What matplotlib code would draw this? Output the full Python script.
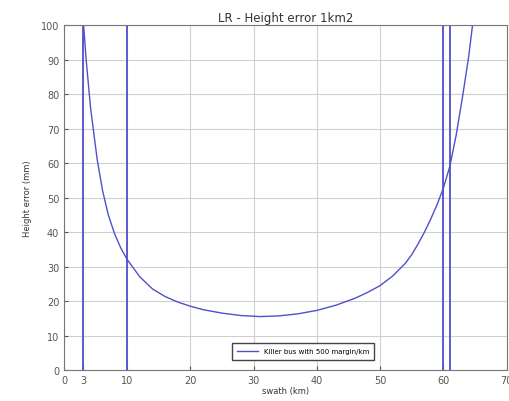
import matplotlib
matplotlib.use("Agg")
import matplotlib.pyplot as plt

# height error curve
swath = [3.1, 3.5, 4.2, 5.25, 6.1, 7, 8, 9, 10, 12, 14, 16, 18, 20, 22, 25, 28, 31,
         34, 37, 40, 43, 46, 48, 50, 52, 54, 55, 56, 57, 58, 59, 60, 61, 62, 63, 64, 64.6]
height_err = [100, 90, 76, 61, 52, 45, 39.5, 35.3, 32, 27, 23.5, 21.3, 19.7, 18.5, 17.5,
              16.5, 15.8, 15.5, 15.7, 16.3, 17.3, 18.8, 20.8, 22.5, 24.5, 27.3, 31,
              33.5, 36.6, 40, 43.8, 48, 52.8, 59, 68, 79, 91, 100]
vlines = [3, 10, 60, 61]
xticks = [0, 3, 10, 20, 30, 40, 50, 60, 70]
yticks = list(range(0, 101, 10))

fig = plt.figure(figsize=(5.1, 4.02), dpi=100)
ax = fig.add_axes([0.1255, 0.077, 0.868, 0.858])

blue = '#5050cc'
ax.plot(swath, height_err, color=blue, lw=1.0, label='Killer bus with 500 margin/km')
for v in vlines:
    ax.axvline(v, color=blue, lw=1.3)

ax.set_xlim(0, 70)
ax.set_ylim(0, 100)
ax.set_xticks(xticks)
ax.set_yticks(yticks)
ax.grid(True, color='#d0d0d0', lw=0.8)
ax.tick_params(direction='in', labelsize=7, length=3, colors='#555555')
for s in ax.spines.values():
    s.set_color('#777777')

ax.set_title('LR - Height error 1km2', fontsize=8.5, color='#333333', pad=3)
ax.set_xlabel('swath (km)', fontsize=6, color='#333333', labelpad=1)
ax.set_ylabel('Height error (mm)', fontsize=6, color='#333333', labelpad=6)

leg = ax.legend(loc='lower center', bbox_to_anchor=(0.54, 0.02), fontsize=5,
                fancybox=False, framealpha=1, borderpad=0.8, handlelength=3)
leg.get_frame().set_edgecolor('#444444')

fig.savefig('out.png', dpi=100)
